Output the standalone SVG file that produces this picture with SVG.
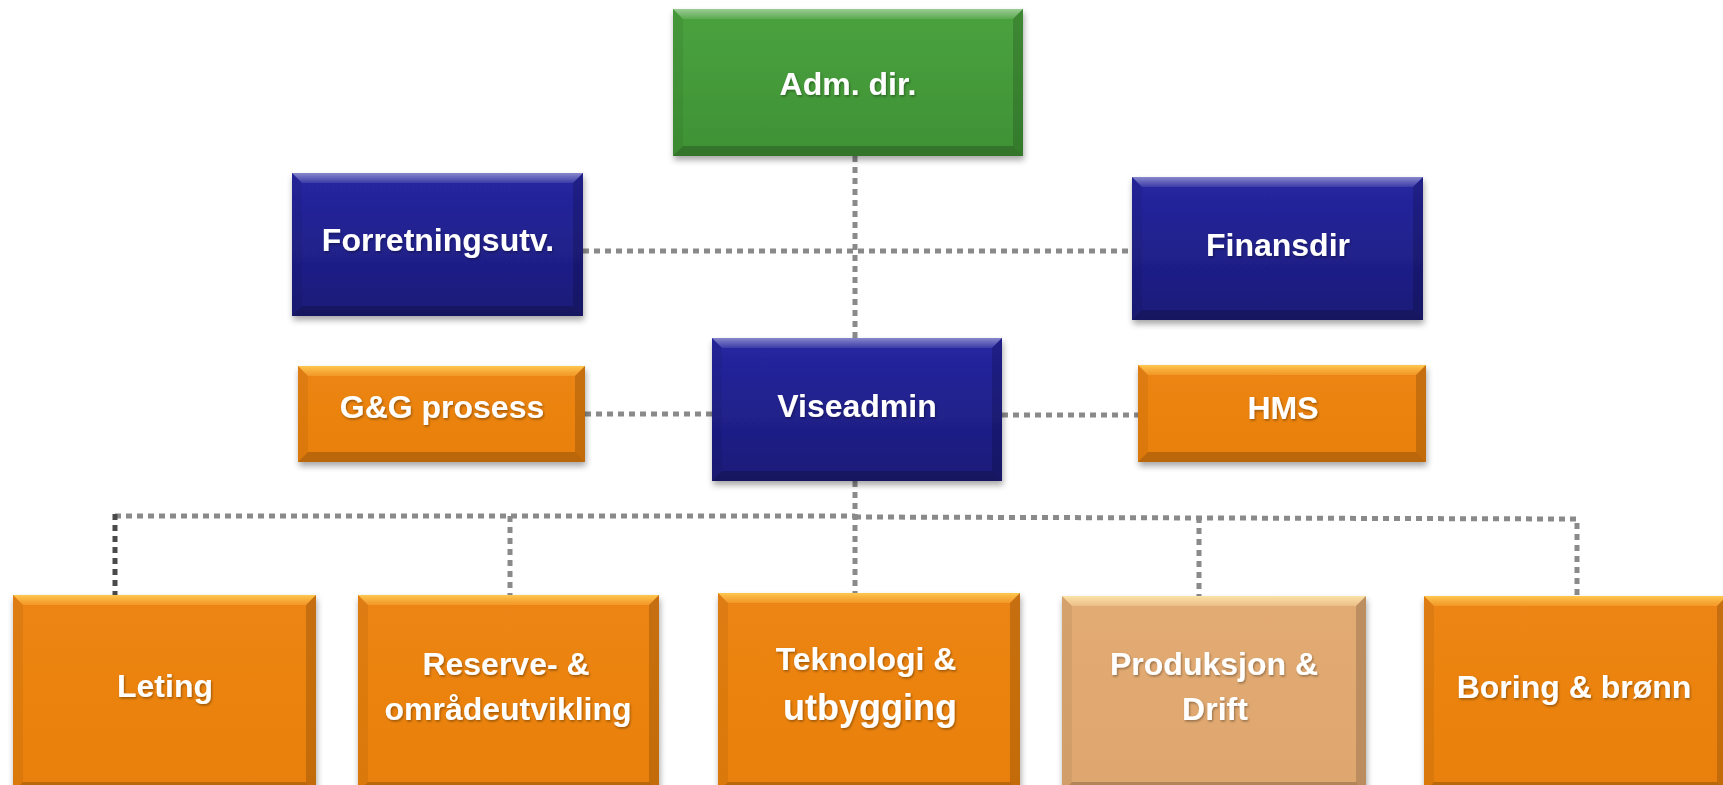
<svg xmlns="http://www.w3.org/2000/svg" width="1723" height="785" viewBox="0 0 1723 785">
<defs>
  <filter id="sh" x="-10%" y="-10%" width="120%" height="130%">
    <feDropShadow dx="1" dy="4" stdDeviation="3" flood-color="#000" flood-opacity="0.35"/>
  </filter>
  <filter id="tsh" x="-10%" y="-30%" width="120%" height="160%">
    <feDropShadow dx="1" dy="1.5" stdDeviation="1" flood-color="#000" flood-opacity="0.35"/>
  </filter>
  <linearGradient id="gGreen" x1="0" y1="0" x2="0" y2="1">
    <stop offset="0" stop-color="#4AA23E"/><stop offset="1" stop-color="#3F9235"/>
  </linearGradient>
  <linearGradient id="gNavy" x1="0" y1="0" x2="0" y2="1">
    <stop offset="0" stop-color="#2626A2"/><stop offset="1" stop-color="#1B1B78"/>
  </linearGradient>
  <linearGradient id="gOrange" x1="0" y1="0" x2="0" y2="1">
    <stop offset="0" stop-color="#EC8512"/><stop offset="1" stop-color="#E98010"/>
  </linearGradient>
  <linearGradient id="gTan" x1="0" y1="0" x2="0" y2="1">
    <stop offset="0" stop-color="#E2AB73"/><stop offset="1" stop-color="#DFA76F"/>
  </linearGradient>
  <linearGradient id="gTop" x1="0" y1="0" x2="0" y2="1">
    <stop offset="0" stop-color="#fff" stop-opacity="0.45"/><stop offset="1" stop-color="#fff" stop-opacity="0.1"/>
  </linearGradient>
  <linearGradient id="gTopO" x1="0" y1="0" x2="0" y2="1">
    <stop offset="0" stop-color="#FFC850" stop-opacity="1"/><stop offset="1" stop-color="#F5A030" stop-opacity="0.7"/>
  </linearGradient>
  <linearGradient id="gTopT" x1="0" y1="0" x2="0" y2="1">
    <stop offset="0" stop-color="#FBE3A8" stop-opacity="1"/><stop offset="1" stop-color="#EEC48E" stop-opacity="0.8"/>
  </linearGradient>
</defs>
<style>
  .face { filter: url(#sh); }
  .green .face { fill: url(#gGreen); }
  .navy .face { fill: url(#gNavy); }
  .orange .face { fill: url(#gOrange); }
  .tan .face { fill: url(#gTan); }
  .bt { fill: url(#gTop); }
  .orange .bt { fill: url(#gTopO); }
  .tan .bt { fill: url(#gTopT); }
  .br { fill: #000; opacity: 0.16; }
  .bb { fill: #000; opacity: 0.2; }
  .bl { fill: #000; opacity: 0.06; }
  text { font-family: "Liberation Sans", Arial, sans-serif; font-weight: bold; font-size: 32px; fill: #ffffff; text-anchor: middle; filter: url(#tsh); }
  .conn line, .conn polyline { stroke: #8A8A8A; stroke-width: 5; stroke-dasharray: 6 5; fill: none; }
  .conn .dark { stroke: #4A4A4A; }
</style>

<g class="conn" id="connectors">
  <line x1="855" y1="156" x2="855" y2="338"/>
  <line x1="583" y1="251" x2="1132" y2="251"/>
  <line x1="585" y1="414" x2="712" y2="414"/>
  <line x1="1002" y1="415" x2="1138" y2="415"/>
  <line x1="855" y1="481" x2="855" y2="593"/>
  <line x1="115" y1="516" x2="855" y2="516"/>
  <polyline points="855,517 1577,519 1577,596"/>
  <line class="dark" x1="115" y1="514" x2="115" y2="595"/>
  <line x1="510" y1="516" x2="510" y2="595"/>
  <line x1="1199" y1="517" x2="1199" y2="596"/>
</g>

<g id="adm" class="node green">
  <rect class="face" x="673" y="9" width="350" height="147"/>
  <polygon class="bt" points="673,9 1023,9 1013,19 683,19"/>
  <polygon class="br" points="1023,9 1023,156 1013,146 1013,19"/>
  <polygon class="bb" points="673,156 1023,156 1013,146 683,146"/>
  <polygon class="bl" points="673,9 683,19 683,146 673,156"/>
  <text x="848" y="95">Adm. dir.</text>
</g>

<g id="forretning" class="node navy">
  <rect class="face" x="292" y="173" width="291" height="143"/>
  <polygon class="bt" points="292,173 583,173 573,183 302,183"/>
  <polygon class="br" points="583,173 583,316 573,306 573,183"/>
  <polygon class="bb" points="292,316 583,316 573,306 302,306"/>
  <polygon class="bl" points="292,173 302,183 302,306 292,316"/>
  <text x="438" y="251">Forretningsutv.</text>
</g>

<g id="finans" class="node navy">
  <rect class="face" x="1132" y="177" width="291" height="143"/>
  <polygon class="bt" points="1132,177 1423,177 1413,187 1142,187"/>
  <polygon class="br" points="1423,177 1423,320 1413,310 1413,187"/>
  <polygon class="bb" points="1132,320 1423,320 1413,310 1142,310"/>
  <polygon class="bl" points="1132,177 1142,187 1142,310 1132,320"/>
  <text x="1278" y="256">Finansdir</text>
</g>

<g id="gg" class="node orange">
  <rect class="face" x="298" y="366" width="287" height="96"/>
  <polygon class="bt" points="298,366 585,366 575,376 308,376"/>
  <polygon class="br" points="585,366 585,462 575,452 575,376"/>
  <polygon class="bb" points="298,462 585,462 575,452 308,452"/>
  <polygon class="bl" points="298,366 308,376 308,452 298,462"/>
  <text x="442" y="418">G&amp;G prosess</text>
</g>

<g id="vise" class="node navy">
  <rect class="face" x="712" y="338" width="290" height="143"/>
  <polygon class="bt" points="712,338 1002,338 992,348 722,348"/>
  <polygon class="br" points="1002,338 1002,481 992,471 992,348"/>
  <polygon class="bb" points="712,481 1002,481 992,471 722,471"/>
  <polygon class="bl" points="712,338 722,348 722,471 712,481"/>
  <text x="857" y="417">Viseadmin</text>
</g>

<g id="hms" class="node orange">
  <rect class="face" x="1138" y="365" width="288" height="97"/>
  <polygon class="bt" points="1138,365 1426,365 1416,375 1148,375"/>
  <polygon class="br" points="1426,365 1426,462 1416,452 1416,375"/>
  <polygon class="bb" points="1138,462 1426,462 1416,452 1148,452"/>
  <polygon class="bl" points="1138,365 1148,375 1148,452 1138,462"/>
  <text x="1283" y="419">HMS</text>
</g>

<g id="leting" class="node orange">
  <rect class="face" x="13" y="595" width="303" height="197"/>
  <polygon class="bt" points="13,595 316,595 306,605 23,605"/>
  <polygon class="br" points="316,595 316,792 306,782 306,605"/>
  <polygon class="bb" points="13,792 316,792 306,782 23,782"/>
  <polygon class="bl" points="13,595 23,605 23,782 13,792"/>
  <text x="165" y="697">Leting</text>
</g>

<g id="reserve" class="node orange">
  <rect class="face" x="358" y="595" width="301" height="197"/>
  <polygon class="bt" points="358,595 659,595 649,605 368,605"/>
  <polygon class="br" points="659,595 659,792 649,782 649,605"/>
  <polygon class="bb" points="358,792 659,792 649,782 368,782"/>
  <polygon class="bl" points="358,595 368,605 368,782 358,792"/>
  <text x="506" y="675">Reserve- &amp;</text>
  <text x="508" y="720">områdeutvikling</text>
</g>

<g id="teknologi" class="node orange">
  <rect class="face" x="718" y="593" width="302" height="199"/>
  <polygon class="bt" points="718,593 1020,593 1010,603 728,603"/>
  <polygon class="br" points="1020,593 1020,792 1010,782 1010,603"/>
  <polygon class="bb" points="718,792 1020,792 1010,782 728,782"/>
  <polygon class="bl" points="718,593 728,603 728,782 718,792"/>
  <text x="866" y="670">Teknologi &amp;</text>
  <text x="870" y="720" style="font-size:36px">utbygging</text>
</g>

<g id="produksjon" class="node tan">
  <rect class="face" x="1062" y="596" width="304" height="196"/>
  <polygon class="bt" points="1062,596 1366,596 1356,606 1072,606"/>
  <polygon class="br" points="1366,596 1366,792 1356,782 1356,606"/>
  <polygon class="bb" points="1062,792 1366,792 1356,782 1072,782"/>
  <polygon class="bl" points="1062,596 1072,606 1072,782 1062,792"/>
  <text x="1214" y="675">Produksjon &amp;</text>
  <text x="1215" y="720">Drift</text>
</g>

<g id="boring" class="node orange">
  <rect class="face" x="1424" y="596" width="303" height="196"/>
  <polygon class="bt" points="1424,596 1727,596 1717,606 1434,606"/>
  <polygon class="br" points="1727,596 1727,792 1717,782 1717,606"/>
  <polygon class="bb" points="1424,792 1727,792 1717,782 1434,782"/>
  <polygon class="bl" points="1424,596 1434,606 1434,782 1424,792"/>
  <text x="1574" y="698">Boring &amp; brønn</text>
</g>
</svg>
